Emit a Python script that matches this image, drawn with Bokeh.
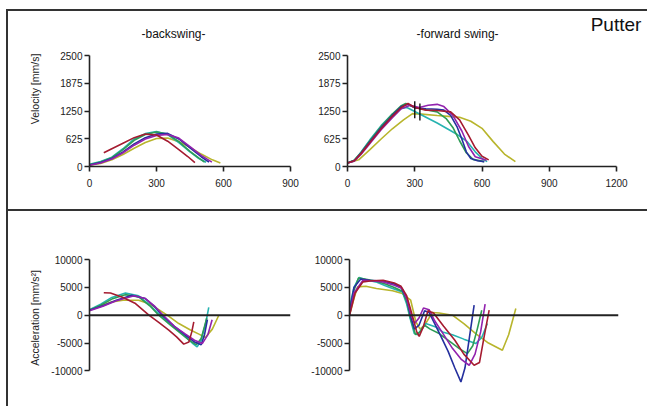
import math
from bokeh.plotting import figure
from bokeh.layouts import column, row
from bokeh.models import Spacer, Range1d, FixedTicker, Span, Label
from bokeh.embed import file_html
from bokeh.resources import INLINE

FONT = "Liberation Sans"
INK = "#222222"

# ---------------- data ----------------
series_names = ["olive", "teal", "green", "blue", "purple", "red"]
colors = {"olive": "#B8B52C", "teal": "#26B3B0", "green": "#2E9C55",
          "blue": "#25309E", "purple": "#9222AE", "red": "#A51B30"}

vel_ticks = [0, 625, 1250, 1875, 2500]
acc_ticks = [-10000, -5000, 0, 5000, 10000]
back_x_ticks = [0, 300, 600, 900]
fwd_x_ticks = [0, 300, 600, 900, 1200]

# backswing velocity
bv_red_x = [64, 100, 150, 200, 250, 300, 350, 400, 440, 472]
bv_red_y = [308, 400, 525, 650, 730, 710, 570, 380, 225, 85]
bv_teal_x = [0, 50, 100, 150, 200, 250, 300, 350, 400, 450, 490, 522]
bv_teal_y = [50, 110, 210, 400, 620, 740, 790, 720, 540, 330, 180, 97]
bv_green_x = [0, 50, 100, 150, 200, 250, 300, 350, 400, 450, 490, 515]
bv_green_y = [40, 100, 200, 380, 590, 720, 775, 730, 560, 340, 190, 100]
bv_blue_x = [0, 50, 100, 150, 200, 250, 300, 350, 400, 450, 500, 535]
bv_blue_y = [35, 90, 180, 330, 510, 650, 730, 745, 620, 420, 220, 100]
bv_purple_x = [0, 50, 100, 150, 200, 250, 300, 350, 400, 450, 500, 548]
bv_purple_y = [30, 80, 170, 310, 480, 620, 700, 720, 640, 450, 250, 100]
bv_olive_x = [0, 50, 100, 150, 200, 250, 300, 350, 400, 450, 500, 550, 586]
bv_olive_y = [30, 70, 150, 270, 410, 540, 630, 640, 560, 430, 280, 150, 80]

# forward swing velocity
fv_red_x = [0, 30, 60, 100, 150, 200, 240, 270, 300, 350, 400, 460, 500, 540, 570, 600, 630]
fv_red_y = [80, 130, 290, 540, 850, 1130, 1330, 1420, 1330, 1270, 1260, 1230, 1050, 700, 420, 230, 150]
fv_green_x = [0, 30, 60, 100, 150, 200, 240, 260, 300, 350, 400, 440, 470, 500, 530, 560, 610]
fv_green_y = [80, 140, 310, 580, 900, 1180, 1370, 1420, 1330, 1280, 1230, 1080, 880, 580, 310, 160, 110]
fv_teal_x = [0, 30, 60, 100, 150, 200, 240, 265, 300, 350, 400, 445, 490, 534, 570, 600, 623]
fv_teal_y = [80, 140, 320, 600, 920, 1180, 1310, 1330, 1240, 1110, 980, 850, 720, 560, 330, 180, 110]
fv_blue_x = [0, 30, 60, 100, 150, 200, 240, 270, 300, 350, 400, 430, 460, 490, 510, 530, 550, 580, 610]
fv_blue_y = [80, 130, 300, 560, 870, 1150, 1350, 1400, 1320, 1300, 1290, 1270, 1150, 880, 620, 330, 180, 130, 110]
fv_purple_x = [0, 30, 60, 100, 150, 200, 240, 280, 320, 360, 400, 430, 470, 510, 540, 570, 620]
fv_purple_y = [80, 120, 270, 520, 830, 1100, 1300, 1380, 1330, 1380, 1400, 1350, 1150, 800, 450, 220, 140]
fv_olive_x = [0, 50, 100, 150, 200, 250, 290, 330, 400, 450, 500, 550, 600, 650, 700, 749]
fv_olive_y = [80, 150, 380, 620, 850, 1050, 1190, 1180, 1150, 1130, 1110, 1020, 860, 560, 280, 110]
mark_x = [300, 323]
mark_y = [1280, 1225]

# backswing acceleration
ba_red_x = [64, 94, 150, 206, 266, 310, 355, 390, 422, 445, 458, 467]
ba_red_y = [4050, 4000, 3200, 2100, 0, -1300, -2700, -3900, -5200, -4800, -3000, -1200]
ba_teal_x = [0, 50, 100, 161, 220, 270, 318, 370, 420, 460, 482, 500, 520, 534]
ba_teal_y = [1000, 2000, 3200, 4000, 3500, 1800, 0, -1800, -3500, -5000, -5700, -4500, -1500, 1400]
ba_green_x = [0, 50, 100, 160, 220, 270, 310, 360, 410, 450, 478, 500, 515, 525]
ba_green_y = [900, 1800, 2900, 3700, 3300, 1700, 0, -1700, -3300, -4600, -5300, -4200, -2000, -500]
ba_blue_x = [0, 60, 120, 190, 250, 290, 325, 380, 430, 470, 500, 515, 528]
ba_blue_y = [900, 1700, 2700, 3600, 3000, 1600, 0, -2000, -3600, -4800, -5300, -3500, -800]
ba_purple_x = [0, 60, 120, 200, 250, 290, 330, 380, 430, 470, 505, 530, 549]
ba_purple_y = [800, 1600, 2600, 3500, 3000, 1700, 0, -2000, -3400, -4500, -5100, -3500, -800]
ba_olive_x = [0, 50, 100, 150, 220, 270, 310, 348, 400, 450, 490, 519, 550, 579]
ba_olive_y = [1000, 1700, 2400, 2700, 2700, 2000, 1000, 0, -1500, -2600, -3400, -4000, -2500, 0]

# forward swing acceleration
fa_teal_x = [0, 20, 43, 80, 117, 160, 192, 236, 255, 270, 289, 305, 318, 340, 385, 415, 459, 510, 563, 590, 615]
fa_teal_y = [1500, 5000, 6800, 6300, 6000, 5300, 4800, 4200, 2000, -500, -3300, -3500, -2700, -1500, -2100, -3000, -3500, -4300, -5100, -4000, -1500]
fa_green_x = [0, 20, 40, 80, 120, 160, 200, 236, 255, 275, 295, 315, 335, 360, 400, 450, 490, 526, 550, 570, 590]
fa_green_y = [500, 4500, 6700, 6400, 6100, 5600, 5000, 4300, 2500, -1000, -3500, -3000, -1800, -2500, -3300, -4800, -6000, -6900, -5500, -2500, 900]
fa_blue_x = [0, 20, 50, 90, 150, 200, 230, 255, 275, 290, 310, 335, 355, 380, 410, 440, 470, 497, 515, 535, 556]
fa_blue_y = [500, 5000, 6500, 6300, 6100, 5600, 5000, 3000, -500, -2500, -1800, 800, 500, -1500, -4000, -6500, -9500, -12000, -9500, -4000, 1800]
fa_purple_x = [0, 20, 60, 100, 150, 200, 235, 255, 275, 290, 310, 330, 355, 380, 420, 460, 500, 534, 560, 585, 605]
fa_purple_y = [0, 4000, 6300, 6200, 6000, 5400, 4800, 3000, 0, -1500, -500, 1300, 1000, -1000, -3500, -6000, -8000, -9000, -7000, -3000, 2000]
fa_red_x = [0, 25, 60, 100, 150, 200, 230, 255, 280, 300, 311, 330, 350, 375, 420, 470, 510, 556, 580, 600, 623]
fa_red_y = [0, 4000, 6000, 6200, 6300, 5800, 5200, 3500, 0, -3000, -3800, -2000, 800, 400, -2000, -4500, -7000, -9000, -8500, -4000, 900]
fa_olive_x = [0, 20, 36, 73, 120, 192, 236, 273, 296, 315, 335, 370, 400, 459, 510, 563, 620, 682, 710, 742]
fa_olive_y = [0, 3000, 5100, 5200, 4800, 4400, 3900, 2700, -1200, -2500, -1800, 500, 400, 0, -1500, -3300, -5000, -6300, -3500, 1200]

bv = {"red": (bv_red_x, bv_red_y), "teal": (bv_teal_x, bv_teal_y), "green": (bv_green_x, bv_green_y),
      "blue": (bv_blue_x, bv_blue_y), "purple": (bv_purple_x, bv_purple_y), "olive": (bv_olive_x, bv_olive_y)}
fv = {"red": (fv_red_x, fv_red_y), "teal": (fv_teal_x, fv_teal_y), "green": (fv_green_x, fv_green_y),
      "blue": (fv_blue_x, fv_blue_y), "purple": (fv_purple_x, fv_purple_y), "olive": (fv_olive_x, fv_olive_y)}
ba = {"red": (ba_red_x, ba_red_y), "teal": (ba_teal_x, ba_teal_y), "green": (ba_green_x, ba_green_y),
      "blue": (ba_blue_x, ba_blue_y), "purple": (ba_purple_x, ba_purple_y), "olive": (ba_olive_x, ba_olive_y)}
fa = {"red": (fa_red_x, fa_red_y), "teal": (fa_teal_x, fa_teal_y), "green": (fa_green_x, fa_green_y),
      "blue": (fa_blue_x, fa_blue_y), "purple": (fa_purple_x, fa_purple_y), "olive": (fa_olive_x, fa_olive_y)}


def style_axis(ax, ticks):
    ax.ticker = FixedTicker(ticks=ticks)
    ax.major_label_overrides = {t: str(t) for t in ticks}
    ax.bounds = (min(ticks), max(ticks))
    ax.axis_line_color = INK
    ax.axis_line_width = 1.6
    ax.major_tick_line_color = INK
    ax.major_tick_line_width = 1.6
    ax.major_tick_out = 5
    ax.major_tick_in = 0
    ax.minor_tick_line_color = None
    ax.major_label_text_font = FONT
    ax.major_label_text_font_size = "10px"
    ax.major_label_text_color = INK
    ax.axis_label_text_font = FONT
    ax.axis_label_text_font_style = "normal"
    ax.axis_label_text_font_size = "10.5px"
    ax.axis_label_text_color = INK


def make_fig(fw, fh, bl, br, bt, bb, xr, yr):
    p = figure(width=bl + fw + br, height=bt + fh + bb, frame_width=fw, frame_height=fh,
               min_border_left=bl, min_border_right=br, min_border_top=bt, min_border_bottom=bb,
               x_range=Range1d(*xr), y_range=Range1d(*yr),
               output_backend="svg", toolbar_location=None)
    p.outline_line_color = None
    p.grid.visible = False
    p.background_fill_color = "white"
    p.border_fill_color = "white"
    return p


def add_lines(p, data):
    for name in series_names:
        xs, ys = data[name]
        p.line(xs, ys, line_color=colors[name], line_width=1.6)


def heading(p, x, y, text, size="12px", align="center"):
    p.add_layout(Label(x=x, y=y, text=text, text_align=align, text_baseline="middle",
                       text_font=FONT, text_font_size=size, text_color="#111111"))


# frame geometry (pixels): the top frames also hold the panel headings
LW, LBL, LBR = 201, 81, 18
RW_AX, RBL = 269, 39
RW = 300                      # right frame runs to the page edge
TOP_FH, AX_FH = 155, 111      # full top frame / part used by the 0..2500 axis
vel_top = 2500 * TOP_FH / AX_FH
fwd_right = 1200 * RW / RW_AX

# top-left: backswing velocity
p1 = make_fig(LW, TOP_FH, LBL, LBR, 0, 43, (0, 900), (0, vel_top))
style_axis(p1.xaxis[0], back_x_ticks)
style_axis(p1.yaxis[0], vel_ticks)
p1.xaxis.major_label_standoff = 7
p1.yaxis.major_label_standoff = 2
p1.yaxis.axis_label = "Velocity [mm/s]"
p1.yaxis.axis_label_standoff = 16
add_lines(p1, bv)
heading(p1, 376, 2995, "-backswing-")

# top-right: forward swing velocity
p2 = make_fig(RW, TOP_FH, RBL, 0, 0, 43, (0, fwd_right), (0, vel_top))
style_axis(p2.xaxis[0], fwd_x_ticks)
style_axis(p2.yaxis[0], vel_ticks)
p2.xaxis.major_label_standoff = 7
p2.yaxis.major_label_standoff = 2
add_lines(p2, fv)
p2.scatter(mark_x, mark_y, marker="dash", angle=math.pi / 2, size=17,
           line_color="#111111", line_width=1.4)
heading(p2, 491, 2995, "-forward swing-")
heading(p2, 1311, 3198, "Putter", size="19px", align="right")

# bottom-left: backswing acceleration
p3 = make_fig(LW, 139, LBL, LBR, 37, 19, (0, 900), (-13000, 12000))
p3.xaxis.visible = False
style_axis(p3.yaxis[0], acc_ticks)
p3.yaxis.major_label_standoff = 2
p3.yaxis.axis_label = "Acceleration [mm/s²]"
p3.yaxis.axis_label_standoff = 7
p3.add_layout(Span(location=0, dimension="width", line_color=INK, line_width=2))
add_lines(p3, ba)

# bottom-right: forward swing acceleration
p4 = make_fig(RW_AX, 139, RBL, RW - RW_AX, 37, 19, (0, 1200), (-13000, 12000))
p4.xaxis.visible = False
style_axis(p4.yaxis[0], acc_ticks)
p4.yaxis.major_label_standoff = 2
p4.add_layout(Span(location=0, dimension="width", line_color=INK, line_width=2))
add_lines(p4, fa)

WC = (LBL + LW + LBR) + (RBL + RW)
line_style = {"background-color": "#333333"}
body = column(
    Spacer(width=WC, height=9),
    Spacer(width=WC, height=2, styles=line_style),
    row(p1, p2),
    Spacer(width=WC, height=2, styles=line_style),
    row(p3, p4),
)
left = column(Spacer(width=2, height=9), Spacer(width=2, height=397, styles=line_style))
page = row(Spacer(width=6, height=406), left, body)

open("out.html", "w").write(file_html(page, INLINE))
